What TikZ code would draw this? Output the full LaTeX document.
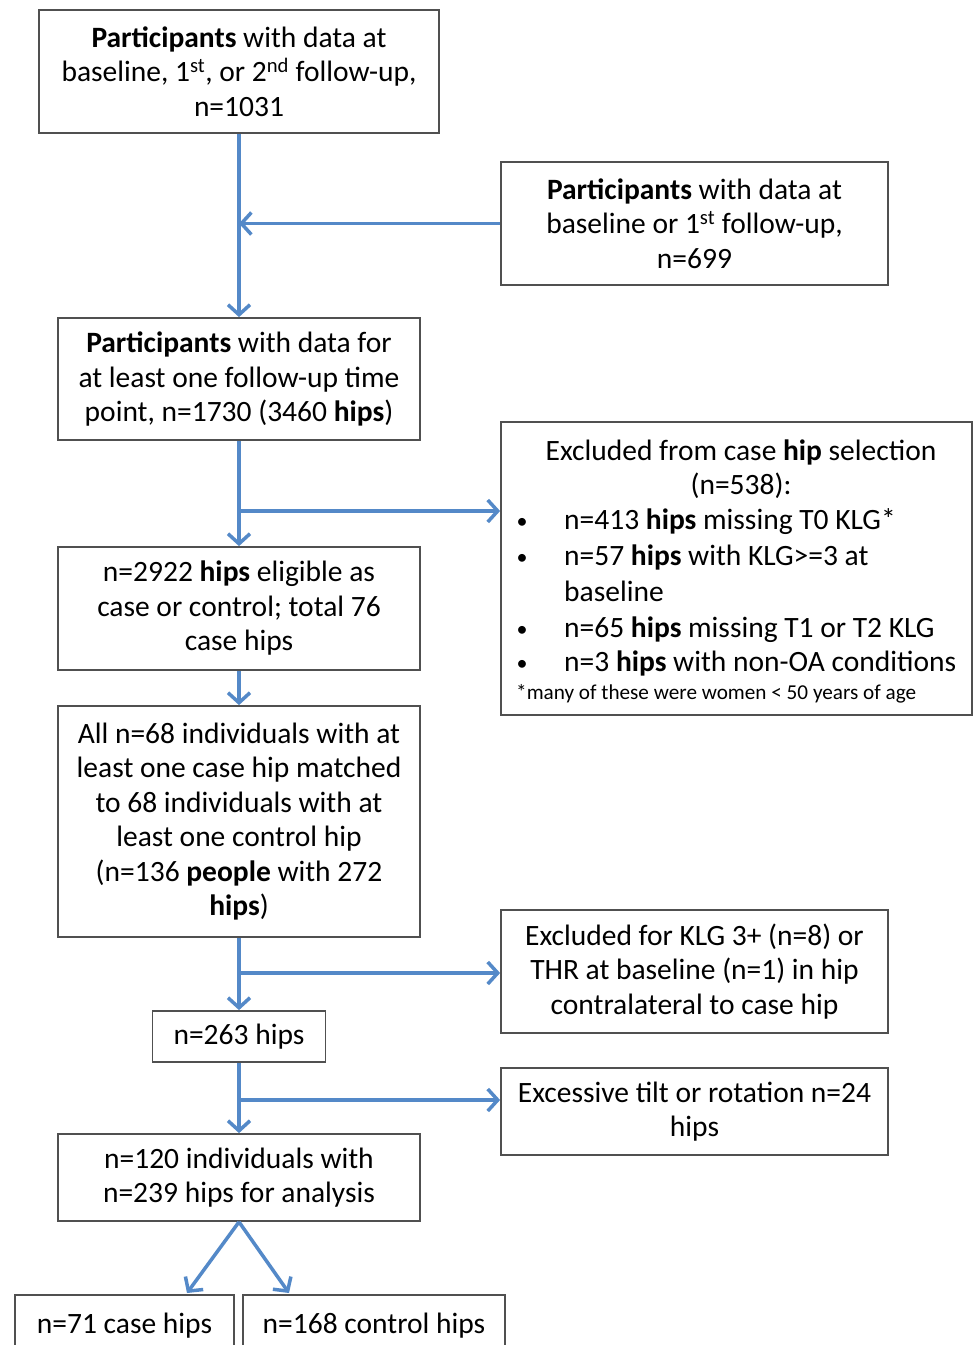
\documentclass[tikz,border=0pt]{standalone}
\usepackage{fontspec}
\setmainfont{Carlito}
\usetikzlibrary{arrows.meta}
\definecolor{arrowblue}{RGB}{84,137,200}
\definecolor{boxgray}{RGB}{80,80,80}
\begin{document}
\begin{tikzpicture}[x=1pt,y=-1pt,
  box/.style={draw=boxgray, line width=1.8pt, align=center, inner sep=0pt,
    font=\fontsize{29.5}{34.5}\selectfont},
  flow/.style={draw=arrowblue, line width=3.5pt,
    -{Straight Barb[length=10pt,width=22pt,line width=3.5pt]}},
  txt/.style={inner sep=0pt, font=\fontsize{29.5}{34.5}\selectfont},
  bul/.style={inner sep=0pt, font=\fontsize{22}{26}\selectfont},
  note/.style={inner sep=0pt, font=\fontsize{21.2}{25}\selectfont}]
\useasboundingbox (0,0) rectangle (973,1345);
\fill[white] (0,0) rectangle (973,1345);

\node[box, minimum width=400, minimum height=123] (p1) at (239,71.5)
  {\textbf{Participants} with data at\\ baseline, 1\textsuperscript{st}, or 2\textsuperscript{nd} follow-up,\\ n=1031};
\node[box, minimum width=387, minimum height=123] (p2) at (694.5,223.5)
  {\textbf{Participants} with data at\\ baseline or 1\textsuperscript{st} follow-up,\\ n=699};
\node[box, minimum width=362, minimum height=122] (p3) at (239,379)
  {\textbf{Participants} with data for\\ at least one follow-up time\\ point, n=1730 (3460 \textbf{hips})};
\node[box, minimum width=471, minimum height=293] (ex) at (736.5,568.5) {};
\node[box, minimum width=362, minimum height=123] (p4) at (239,608.5)
  {n=2922 \textbf{hips} eligible as\\ case or control; total 76\\ case hips};
\node[box, minimum width=362, minimum height=231] (p5) at (239,821.5)
  {All n=68 individuals with at\\ least one case hip matched\\ to 68 individuals with at\\ least one control hip\\ (n=136 \textbf{people} with 272\\ \textbf{hips})};
\node[box, minimum width=387, minimum height=123] (ex2) at (694.5,971.5)
  {Excluded for KLG 3+ (n=8) or\\ THR at baseline (n=1) in hip\\ contralateral to case hip};
\node[box, minimum width=173, minimum height=51] (p6) at (239,1036.5) {n=263 hips};
\node[box, minimum width=387, minimum height=87] (ex3) at (694.5,1111.5)
  {Excessive tilt or rotation n=24\\ hips};
\node[box, minimum width=362, minimum height=87] (p7) at (239,1177.5)
  {n=120 individuals with\\ n=239 hips for analysis};
\node[box, minimum width=219, minimum height=62] (c1) at (124.5,1326) {n=71 case hips};
\node[box, minimum width=262, minimum height=62] (c2) at (374,1326) {n=168 control hips};

% text of the exclusion box
\node[txt] (exh1) at (741,454) {\strut Excluded from case \textbf{hip} selection};
\node[txt] (exh2) at (741,488) {\strut (n=538):};
\node[bul] (bu1) at (522,523) {\strut •};
\node[txt, anchor=west] (ex1) at (564,523) {\strut n=413 \textbf{hips} missing T0 KLG*};
\node[bul] (bu2) at (522,559) {\strut •};
\node[txt, anchor=west] (ex2a) at (564,559) {\strut n=57 \textbf{hips} with KLG>=3 at};
\node[txt, anchor=west] (ex2b) at (564,595) {\strut baseline};
\node[bul] (bu3) at (522,631) {\strut •};
\node[txt, anchor=west] (ex3a) at (564,631) {\strut n=65 \textbf{hips} missing T1 or T2 KLG};
\node[bul] (bu4) at (522,665) {\strut •};
\node[txt, anchor=west] (ex4a) at (564,665) {\strut n=3 \textbf{hips} with non-OA conditions};
\node[note, anchor=west] (exn) at (516,694) {\strut *many of these were women < 50 years of age};

% connectors
\coordinate (j1) at (239,223.5);
\coordinate (j2) at (239,511);
\coordinate (j3) at (239,973);
\coordinate (j4) at (239,1100);
\coordinate (t1) at (187,1293);
\coordinate (t2) at (289,1293);

\draw[flow] (p1.south) -- (p3.north);
\draw[flow] (p2.west) -- (j1);
\draw[flow] (p3.south) -- (p4.north);
\draw[flow] (j2) -- (j2 -| ex.west);
\draw[flow] (p4.south) -- (p5.north);
\draw[flow] (p5.south) -- (p6.north);
\draw[flow] (j3) -- (j3 -| ex2.west);
\draw[flow] (p6.south) -- (p7.north);
\draw[flow] (j4) -- (j4 -| ex3.west);
\draw[flow] (p7.south) -- (t1);
\draw[flow] (p7.south) -- (t2);
\end{tikzpicture}
\end{document}
